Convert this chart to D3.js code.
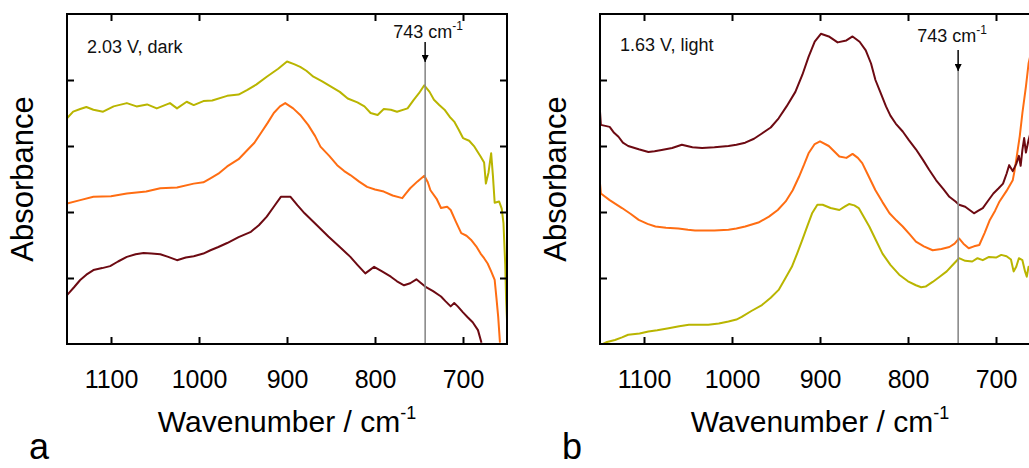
<!DOCTYPE html>
<html>
<head>
<meta charset="utf-8">
<script src="https://cdn.jsdelivr.net/npm/d3@7"></script>
<style>
  body { margin: 0; background: #fff; }
  svg { display: block; font-family: "Liberation Sans", Arial, Helvetica, sans-serif; }
</style>
</head>
<body>
<svg id="chart" width="1029" height="468"></svg>
<script>
// axis ticks
const xTicks = [1100, 1000, 900, 800, 700]
const yTicks = [1, 2, 3, 4]
const markWn = 743

// panel a (2.03 V, dark) : [wavenumber, absorbance]
const darkOlive = [[1150,3.42],[1143,3.52],[1135,3.56],[1128,3.59],[1120,3.55],[1109,3.52],[1097,3.60],[1082,3.65],[1071,3.60],[1059,3.63],[1048,3.57],[1033,3.65],[1025,3.57],[1014,3.67],[1006,3.62],[995,3.68],[985,3.69],[968,3.76],[955,3.78],[945,3.85],[935,3.93],[923,4.05],[910,4.17],[900,4.28],[892,4.24],[885,4.20],[878,4.14],[870,4.05],[860,3.98],[850,3.90],[840,3.82],[831,3.72],[820,3.66],[812,3.60],[805,3.50],[797,3.47],[790,3.56],[782,3.55],[775,3.52],[763,3.57],[756,3.70],[750,3.80],[744,3.92],[738,3.82],[733,3.70],[727,3.62],[721,3.55],[715,3.44],[710,3.37],[705,3.25],[700,3.12],[693,3.08],[687,2.99],[680,2.84],[676,2.75],[674,2.43],[671,2.60],[668,2.89],[666,2.55],[664,2.14],[659,2.16],[656,2.05],[654,1.83],[652,1.20],[651,0.67],[650,0.36]]
const darkOrange = [[1150,2.13],[1135,2.18],[1120,2.23],[1100,2.24],[1082,2.28],[1060,2.31],[1044,2.36],[1025,2.37],[1006,2.43],[995,2.45],[987,2.51],[978,2.58],[968,2.69],[955,2.80],[945,2.94],[937,3.05],[930,3.19],[922,3.35],[915,3.50],[908,3.60],[902,3.65],[893,3.57],[885,3.47],[876,3.32],[868,3.15],[862,2.99],[852,2.85],[843,2.71],[835,2.62],[828,2.56],[818,2.46],[809,2.38],[800,2.34],[790,2.31],[780,2.25],[769,2.21],[765,2.28],[760,2.36],[752,2.46],[744,2.55],[740,2.45],[737,2.33],[730,2.20],[725,2.06],[718,2.08],[714,2.03],[708,1.85],[702,1.68],[696,1.64],[691,1.58],[685,1.48],[680,1.37],[676,1.30],[672,1.22],[668,1.10],[664,0.97],[662,0.70],[660,0.41],[658,0.02]]
const darkMaroon = [[1150,0.74],[1142,0.86],[1135,0.97],[1128,1.05],[1120,1.12],[1110,1.15],[1101,1.18],[1092,1.25],[1082,1.32],[1072,1.36],[1063,1.38],[1054,1.37],[1044,1.36],[1035,1.32],[1025,1.27],[1015,1.31],[1006,1.33],[995,1.37],[987,1.42],[978,1.47],[968,1.53],[955,1.62],[941,1.70],[932,1.80],[923,1.93],[915,2.08],[907,2.23],[896,2.23],[888,2.10],[880,1.98],[866,1.80],[853,1.63],[840,1.47],[828,1.32],[820,1.20],[811,1.07],[806,1.12],[801,1.17],[792,1.10],[782,1.02],[775,0.95],[767,0.89],[760,0.92],[753,0.98],[743,0.87],[734,0.80],[725,0.72],[720,0.65],[714,0.57],[710,0.62],[706,0.57],[700,0.48],[695,0.41],[689,0.33],[683,0.21],[679,0.02]]

// panel b (1.63 V, light)
const lightMaroon = [[1150,3.52],[1149,3.32],[1139,3.29],[1134,3.20],[1129,3.14],[1124,3.05],[1118,3.00],[1106,2.95],[1095,2.91],[1088,2.92],[1080,2.94],[1068,2.97],[1057,3.02],[1045,2.98],[1034,2.97],[1020,2.98],[1004,3.00],[995,3.02],[985,3.05],[975,3.11],[966,3.19],[956,3.28],[947,3.42],[938,3.60],[928,3.82],[920,4.08],[913,4.35],[906,4.58],[899,4.70],[890,4.66],[880,4.57],[870,4.60],[863,4.66],[855,4.58],[848,4.45],[842,4.25],[837,4.00],[831,3.80],[825,3.60],[820,3.46],[814,3.34],[806,3.22],[799,3.09],[791,2.95],[783,2.79],[776,2.64],[768,2.48],[760,2.35],[753,2.23],[746,2.16],[742,2.11],[735,2.08],[730,2.03],[725,1.98],[720,2.02],[715,2.06],[709,2.17],[703,2.28],[697,2.36],[692,2.43],[688,2.58],[685,2.71],[681,2.62],[677,2.73],[674,2.85],[672,2.70],[670,2.94],[668,3.12],[666,2.90],[663,3.09],[660,3.24],[655,3.30]]
const lightOrange = [[1150,2.43],[1149,2.28],[1139,2.18],[1132,2.12],[1125,2.06],[1115,1.97],[1106,1.88],[1096,1.82],[1087,1.78],[1075,1.76],[1061,1.75],[1050,1.73],[1042,1.72],[1020,1.72],[1004,1.73],[995,1.75],[985,1.78],[970,1.84],[958,1.93],[948,2.03],[939,2.16],[931,2.33],[924,2.53],[918,2.72],[913,2.89],[906,3.03],[900,3.07],[890,3.00],[878,2.84],[870,2.82],[863,2.88],[857,2.82],[852,2.74],[845,2.55],[837,2.33],[829,2.15],[821,1.98],[813,1.87],[806,1.78],[798,1.66],[791,1.55],[782,1.48],[772,1.42],[762,1.44],[753,1.47],[747,1.52],[742,1.60],[737,1.52],[731,1.45],[725,1.48],[719,1.50],[713,1.68],[707,1.88],[701,2.02],[696,2.16],[688,2.32],[681,2.48],[679,2.62],[677,2.79],[673,3.15],[670,3.50],[666,3.90],[663,4.25],[658,4.55],[655,4.76]]
const lightOlive = [[1150,-0.02],[1142,0.03],[1133,0.06],[1125,0.10],[1118,0.14],[1105,0.16],[1095,0.19],[1085,0.21],[1072,0.24],[1060,0.27],[1049,0.29],[1038,0.29],[1027,0.29],[1015,0.31],[1004,0.34],[995,0.37],[989,0.41],[978,0.50],[966,0.59],[956,0.70],[947,0.82],[940,0.98],[932,1.17],[926,1.37],[920,1.58],[914,1.80],[909,1.98],[903,2.11],[897,2.11],[888,2.06],[878,2.03],[872,2.08],[867,2.12],[861,2.10],[856,2.06],[850,1.92],[844,1.78],[836,1.56],[829,1.37],[820,1.20],[810,1.05],[800,0.95],[791,0.89],[785,0.86],[780,0.87],[772,0.94],[764,1.02],[756,1.10],[749,1.20],[742,1.30],[735,1.26],[727,1.25],[721,1.30],[715,1.27],[708,1.32],[700,1.31],[694,1.35],[688,1.33],[683,1.28],[680,1.10],[677,1.17],[674,1.30],[670,1.27],[667,1.10],[665,1.02],[663,1.17],[661,1.17],[657,1.05]]

const olive = '#b9b500', orange = '#ff6d12', maroon = '#6d0a12'

const panels = [
  { left: 67, label: '2.03 V, dark', letter: 'a', labelY: 53,
    note: { dx: -32, base: 38, top: 42, tip: 62 },
    series: [[darkMaroon, maroon], [darkOrange, orange], [darkOlive, olive]] },
  { left: 600, label: '1.63 V, light', letter: 'b', labelY: 51,
    note: { dx: -41, base: 42, top: 50, tip: 71 },
    series: [[lightOlive, olive], [lightOrange, orange], [lightMaroon, maroon]] }
]

const plotTop = 14, plotBottom = 344, pw = 440
const svg = d3.select('#chart')

svg.append('defs').append('marker')
    .attr('id', 'arrow')
    .attr('viewBox', '0 0 10 10')
    .attr('refX', 10).attr('refY', 5)
    .attr('markerWidth', 7).attr('markerHeight', 7)
    .attr('markerUnits', 'userSpaceOnUse')
    .attr('orient', 'auto')
  .append('path')
    .attr('d', 'M0,0L10,5L0,10Z')
    .attr('fill', '#000')

panels.forEach((p, i) => {
  const x = d3.scaleLinear().domain([1150, 650]).range([p.left, p.left + pw])
  const y = d3.scaleLinear().domain([0, 5]).range([plotBottom, plotTop])

  const g = svg.append('g')
  const clipId = 'clip' + i
  g.append('clipPath').attr('id', clipId)
    .append('rect')
      .attr('x', p.left).attr('y', plotTop)
      .attr('width', pw).attr('height', plotBottom - plotTop)

  // curves
  const line = d3.line().x(d => x(d[0])).y(d => y(d[1]))
  g.append('g').attr('clip-path', `url(#${clipId})`)
    .selectAll('path')
    .data(p.series)
    .join('path')
      .attr('d', d => line(d[0]))
      .attr('fill', 'none')
      .attr('stroke', d => d[1])
      .attr('stroke-width', 2)
      .attr('stroke-linejoin', 'round')

  // 743 marker
  const xm = x(markWn)
  g.append('line')
    .attr('x1', xm).attr('x2', xm)
    .attr('y1', p.note.top).attr('y2', plotBottom)
    .attr('stroke', '#8a8a8a').attr('stroke-width', 1.6)
  g.append('line')
    .attr('x1', xm).attr('x2', xm)
    .attr('y1', p.note.top).attr('y2', p.note.tip)
    .attr('stroke', '#000').attr('stroke-width', 1.2)
    .attr('marker-end', 'url(#arrow)')
  const nt = g.append('text')
    .attr('x', xm + p.note.dx).attr('y', p.note.base)
    .attr('font-size', 18).attr('fill', '#111')
  nt.append('tspan').text(markWn + ' cm')
  nt.append('tspan').attr('dy', -8).attr('font-size', 12).text('-1')

  // axes: ticks inward on all sides, no labels except bottom
  g.append('g')
    .attr('transform', `translate(0,${plotBottom})`)
    .call(d3.axisBottom(x).tickValues(xTicks).tickSize(-7).tickPadding(26).tickFormat(d3.format('d')))
  g.append('g')
    .attr('transform', `translate(0,${plotTop})`)
    .call(d3.axisTop(x).tickValues(xTicks).tickSize(-7).tickFormat(''))
  g.append('g')
    .attr('transform', `translate(${p.left},0)`)
    .call(d3.axisLeft(y).tickValues(yTicks).tickSize(-7).tickFormat(''))
  g.append('g')
    .attr('transform', `translate(${p.left + pw},0)`)
    .call(d3.axisRight(y).tickValues(yTicks).tickSize(-7).tickFormat(''))
  g.selectAll('.domain').remove()
  g.selectAll('.tick line').attr('stroke', '#000').attr('stroke-width', 2)
  g.selectAll('.tick text')
    .attr('font-size', 25).attr('fill', '#000')
    .attr('font-family', '"Liberation Sans", Arial, sans-serif')

  g.append('rect')
    .attr('x', p.left).attr('y', plotTop)
    .attr('width', pw).attr('height', plotBottom - plotTop)
    .attr('fill', 'none').attr('stroke', '#000').attr('stroke-width', 2)

  // labels
  g.append('text')
    .attr('x', p.left + 20).attr('y', p.labelY)
    .attr('font-size', 18).attr('fill', '#111')
    .text(p.label)

  const xl = g.append('text')
    .attr('x', x(900)).attr('y', 432)
    .attr('text-anchor', 'middle')
    .attr('font-size', 30).attr('fill', '#000')
  xl.append('tspan').text('Wavenumber / cm')
  xl.append('tspan').attr('dy', -13).attr('font-size', 18).text('-1')

  g.append('text')
    .attr('transform', `translate(${p.left - 34},${(plotTop + plotBottom) / 2}) rotate(-90)`)
    .attr('text-anchor', 'middle')
    .attr('font-size', 31).attr('fill', '#000')
    .text('Absorbance')

  g.append('text')
    .attr('x', p.left - 38).attr('y', 459)
    .attr('font-size', 36).attr('fill', '#000')
    .text(p.letter)
})
</script>
</body>
</html>
